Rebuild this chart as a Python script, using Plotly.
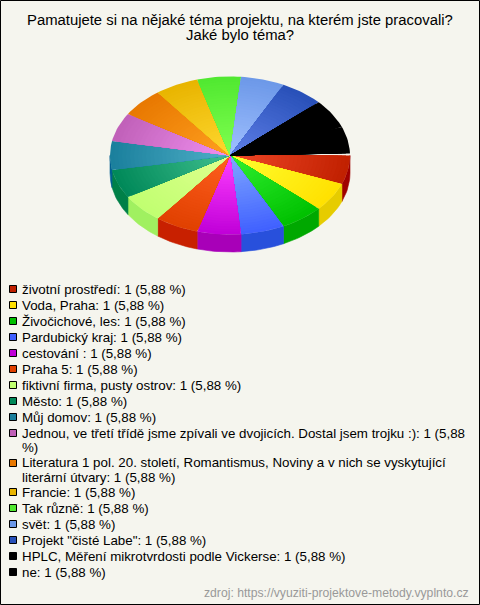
import math
import plotly.graph_objects as go

TITLE_LINES = ["Pamatujete si na nějaké téma projektu, na kterém jste pracovali?", "Jaké bylo téma?"]
SOURCE = "zdroj: https://vyuziti-projektove-metody.vyplnto.cz"
categories = ["životní prostředí", "Voda, Praha", "Živočichové, les", "Pardubický kraj", "cestování ", "Praha 5",
    "fiktivní firma, pusty ostrov", "Město", "Můj domov",
    "Jednou, ve třetí třídě jsme zpívali ve dvojicích. Dostal jsem trojku :)",
    "Literatura 1 pol. 20. století, Romantismus, Noviny a v nich se vyskytující literární útvary",
    "Francie", "Tak různě", "svět", "Projekt \"čisté Labe\"", "HPLC, Měření mikrotvrdosti podle Vickerse", "ne"]
values = [1] * 17
edge_colors = ["#c02000", "#ffe000", "#00c000", "#4060ff", "#c000d8", "#e04000", "#c0ff70", "#008858", "#1a7f9c",
    "#c060b8", "#e87800", "#e8b400", "#50e830", "#6c98e8", "#2850b8", "#000000", "#000000"]
center_colors = ["#f04828", "#ffff30", "#30f030", "#80a8ff", "#ff40ff", "#ff6020", "#e0ff90", "#40c090", "#50b0c8",
    "#f090f0", "#ffa020", "#ffd830", "#80ff50", "#a0c0ff", "#6080e8", "#000000", "#000000"]
side_colors = ["#a00000", "#e6cc00", "#00a800", "#2850dc", "#a800b8", "#c82000", "#a0f060", "#008048", "#006090",
    "#904090", "#c06000", "#c09000", "#30c020", "#5070c0", "#203890", "#000000", "#000000"]
wrapped = {9: ("Jednou, ve třetí třídě jsme zpívali ve dvojicích. Dostal jsem trojku :): 1 (5,88", "%)"),
           10: ("Literatura 1 pol. 20. století, Romantismus, Noviny a v nich se vyskytující", "literární útvary: 1 (5,88 %)")}

CX, CY, RX, RY, DEPTH = 230, 155.5, 120, 79, 17.5
GAP = 1.5
BANDS = 30

def pt(deg, f=1.0, dy=0):
    a = math.radians(deg)
    return CX + RX * f * math.cos(a), CY + RY * f * math.sin(a) + dy

def mix(c1, c2, t):
    a = [int(c1[i:i + 2], 16) for i in (1, 3, 5)]
    b = [int(c2[i:i + 2], 16) for i in (1, 3, 5)]
    return "rgb(%d,%d,%d)" % tuple(round(x + (y - x) * t) for x, y in zip(a, b))

fig = go.Figure()
total = sum(values)
angles = [0]
for v in values:
    angles.append(angles[-1] + 360 * v / total)
angles[-1] -= GAP

def poly(xs, ys, color, lw=0.6):
    fig.add_trace(go.Scatter(x=xs + xs[:1], y=ys + ys[:1], mode="lines", fill="toself", fillcolor=color,
                             line=dict(color=color, width=lw), hoverinfo="skip", showlegend=False))

# side wall (front half only)
for i in range(len(values)):
    a0, a1 = angles[i], angles[i + 1]
    if a0 >= 180:
        continue
    a1 = min(a1, 180)
    steps = [a0 + (a1 - a0) * k / 12 for k in range(13)]
    top = [pt(a) for a in steps]
    bot = [pt(a, dy=DEPTH) for a in reversed(steps)]
    poly([p[0] for p in top + bot], [p[1] for p in top + bot], side_colors[i])

# top faces, outer band first
for i in range(len(values)):
    a0, a1 = angles[i], angles[i + 1]
    steps = [a0 + (a1 - a0) * k / 12 for k in range(13)]
    for b in range(BANDS, 0, -1):
        f = b / BANDS
        t = (b - 0.5) / BANDS
        pts = [(CX, CY)] + [pt(a, f) for a in steps]
        poly([p[0] for p in pts], [p[1] for p in pts], mix(center_colors[i], edge_colors[i], t), lw=0)

annotations = [dict(x=240, y=20 + 15 * k, text=ln, showarrow=False, xanchor="center", yanchor="middle",
                    font=dict(family="Liberation Sans, Arial", size=14.85, color="#000000"))
               for k, ln in enumerate(TITLE_LINES)]
annotations.append(dict(x=471, y=593, text=SOURCE, showarrow=False, xanchor="right", yanchor="middle",
                        font=dict(family="Liberation Sans, Arial", size=12.2, color="#999999")))
shapes = []
y = 289
for i, (name, v) in enumerate(zip(categories, values)):
    pct = ("%.2f" % (100 * v / total)).replace(".", ",")
    lines = wrapped.get(i, ("%s: %d (%s %%)" % (name, v, pct),))
    ry = round(y)
    shapes.append(dict(type="rect", x0=9.5, x1=16.5, y0=ry - 3.5, y1=ry + 3.5, fillcolor=edge_colors[i],
                       line=dict(color="#000000", width=1)))
    for k, ln in enumerate(lines):
        annotations.append(dict(x=20, y=y + k * 14.7, text=ln, showarrow=False, xanchor="left", yanchor="middle",
                                font=dict(family="Liberation Sans, Arial", size=13.33, color="#000000")))
    y += 16 if len(lines) == 1 else 29.6
shapes.append(dict(type="rect", x0=0.5, x1=479.5, y0=0.5, y1=604.5, line=dict(color="#000000", width=1),
                   fillcolor="rgba(0,0,0,0)"))

fig.update_layout(width=480, height=605, margin=dict(l=0, r=0, t=0, b=0), autosize=False,
                  paper_bgcolor="#f5f5ee", plot_bgcolor="#f5f5ee", showlegend=False,
                  xaxis=dict(range=[0, 480], visible=False, fixedrange=True),
                  yaxis=dict(range=[605, 0], visible=False, fixedrange=True),
                  annotations=annotations, shapes=shapes)
fig.write_html("out.html", config={"displayModeBar": False},
               post_script="document.body.style.margin='0';document.documentElement.style.overflow='hidden';")
